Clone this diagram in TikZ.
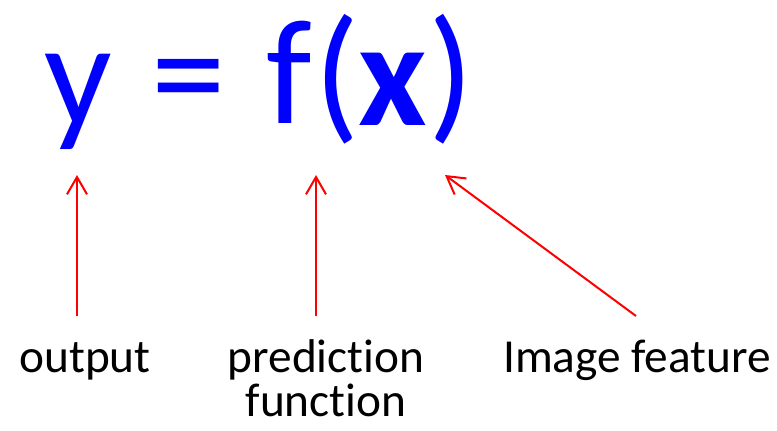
\documentclass[tikz,border=0pt]{standalone}
\usepackage{fontspec}
\setmainfont{Carlito}[Ligatures=NoCommon]
\usetikzlibrary{arrows.meta}

\begin{document}
\begin{tikzpicture}[x=0.75pt, y=-0.75pt]
		% Defines colors to match the image
		\definecolor{formulablue}{RGB}{0, 0, 255}
		\definecolor{arrowred}{RGB}{255, 0, 0}
		\tikzset{
			glyph/.style={inner sep=0pt, anchor=base, text=formulablue, font=\fontsize{112}{112}\selectfont},
			caption/.style={inner sep=0pt, anchor=base, font=\fontsize{35.5}{32}\selectfont},
			pointer/.style={arrowred, line width=1.5pt, -{Straight Barb[length=13pt, width=15pt]}}
		}
		
		% Fixes the size of the picture
		\useasboundingbox (0,0) rectangle (777,431);
		
		% --- Formula ---
		\node[glyph] (y) at (78, 126) {y};
		\node[glyph] (eq) at (189, 124) {=};
		\node[glyph] (f) at (289, 124) {f};
		\node[glyph] (lp) at (337, 124) {(};
		\node[glyph, font=\fontsize{112}{112}\selectfont\bfseries] (x) at (393, 126) {x};
		\node[glyph] (rp) at (451, 124) {)};
		
		% --- Labels ---
		\node[caption] (output) at (85, 372) {output};
		\node[caption] (pred) at (326, 372) {prediction};
		\node[caption] (func) at (326, 416) {function};
		\node[caption] (feature) at (637, 372) {Image feature};
		
		% --- Arrows ---
		% Ends of the arrows, placed by eye
		\coordinate (ytip) at (77, 175);
		\coordinate (ftip) at (316, 175);
		\coordinate (xtip) at (445, 175);
		\coordinate (outtail) at (77, 316);
		\coordinate (predtail) at (316, 316);
		\coordinate (feattail) at (636, 316);
		
		\draw[pointer] (outtail) -- (ytip);
		\draw[pointer] (predtail) -- (ftip);
		\draw[pointer] (feattail) -- (xtip);
		
	\end{tikzpicture}
\end{document}
